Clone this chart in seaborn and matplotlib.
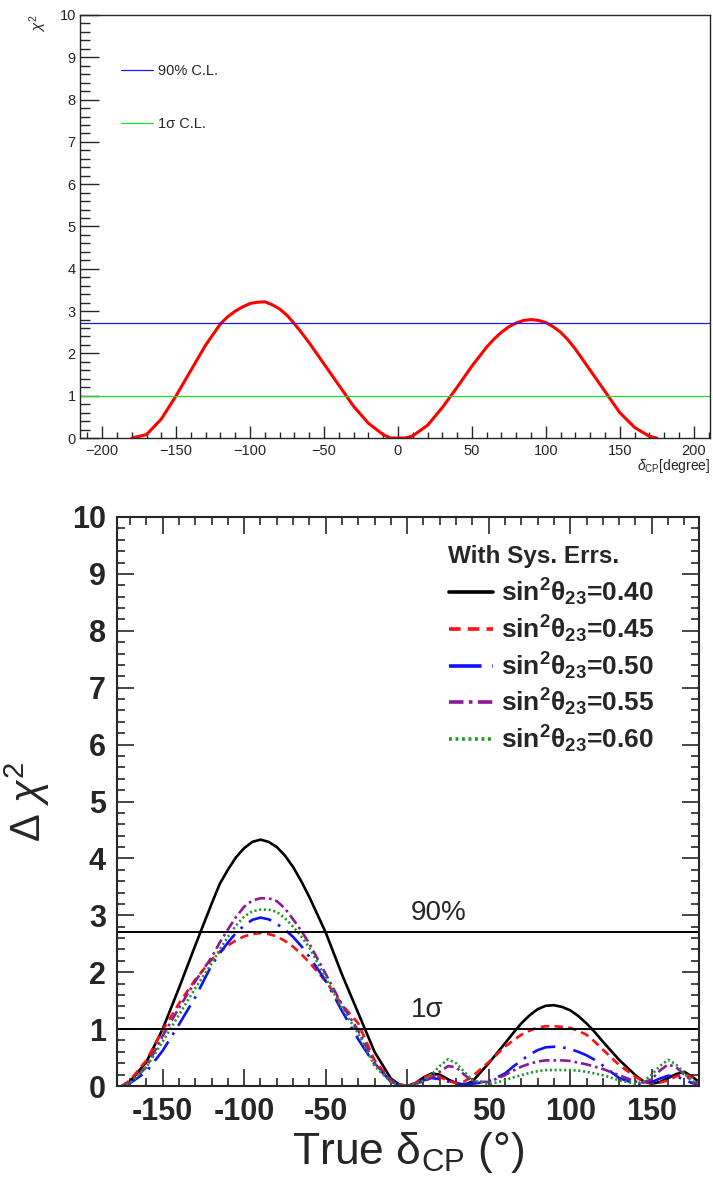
import matplotlib
matplotlib.use("Agg")
import matplotlib.pyplot as plt
import seaborn as sns
from matplotlib import font_manager
from matplotlib.lines import Line2D
from matplotlib.ticker import MultipleLocator

# ---------------- data ----------------
# upper panel: chi2 vs delta_CP
top_delta = [-180, -170, -160, -150, -140, -130, -120,
             -115, -110, -105, -100, -95, -90, -85, -80, -75, -70, -65,
             -60, -50, -40, -30, -20, -10, -5, 0, 5,
             10, 20, 30, 40, 50, 60,
             65, 70, 75, 80, 85, 90, 95, 100, 105, 110, 115,
             120, 130, 140, 150, 160, 170, 175]
top_chi2 = [0.0, 0.08, 0.45, 1.0, 1.6, 2.2, 2.7,
            2.87, 3.0, 3.1, 3.18, 3.21, 3.22, 3.15, 3.05, 2.9, 2.7, 2.48,
            2.25, 1.75, 1.25, 0.75, 0.35, 0.08, 0.0, 0.0, 0.0,
            0.05, 0.3, 0.72, 1.2, 1.7, 2.15,
            2.34, 2.5, 2.63, 2.72, 2.78, 2.8, 2.78, 2.73, 2.63, 2.5, 2.32,
            2.1, 1.6, 1.1, 0.6, 0.25, 0.04, 0.0]
top_levels = [2.71, 1.0]
top_level_names = ["90% C.L.", "1σ C.L."]
top_xticks = [-200, -150, -100, -50, 0, 50, 100, 150, 200]
top_xlabels = ["\u2212200", "\u2212150", "\u2212100", "\u221250", "0", "50", "100", "150", "200"]

# lower panel: delta chi2 vs true delta_CP for several sin^2 theta23
delta = [-175, -170, -160, -150, -140, -130, -120,
         -115, -110, -105, -100, -95, -90, -85, -80, -75, -70, -65,
         -60, -50, -40, -30, -20, -10,
         -5, 0, 5,
         10, 15, 20, 25, 30, 35, 40,
         50, 60,
         65, 70, 75, 80, 85, 90, 95, 100, 105, 110, 115,
         120, 130, 140,
         145, 150, 155, 160, 165, 170, 175, 180]
chi2_040 = [0.0, 0.08, 0.42, 1.0, 1.72, 2.47, 3.2,
            3.55, 3.8, 4.02, 4.18, 4.29, 4.33, 4.29, 4.2, 4.05, 3.85, 3.6,
            3.32, 2.7, 1.96, 1.28, 0.6, 0.13,
            0.03, 0.0, 0.05,
            0.15, 0.22, 0.2, 0.12, 0.05, 0.02, 0.08,
            0.4, 0.75,
            0.93, 1.1, 1.24, 1.35, 1.41, 1.42, 1.39, 1.33, 1.23, 1.1, 0.95,
            0.78, 0.46, 0.19,
            0.08, 0.04, 0.07, 0.14, 0.21, 0.25, 0.16, 0.05]
chi2_045 = [0.0, 0.1, 0.45, 0.98, 1.45, 1.87, 2.22,
            2.36, 2.47, 2.56, 2.63, 2.67, 2.69, 2.67, 2.63, 2.55, 2.45, 2.32,
            2.17, 1.84, 1.43, 1.1, 0.45, 0.1,
            0.03, 0.0, 0.05,
            0.15, 0.2, 0.16, 0.09, 0.05, 0.08, 0.17,
            0.42, 0.69,
            0.8, 0.9, 0.97, 1.03, 1.05, 1.05, 1.04, 1.02, 0.97, 0.9, 0.78,
            0.64, 0.37, 0.16,
            0.08, 0.05, 0.06, 0.1, 0.17, 0.21, 0.15, 0.05]
chi2_050 = [0.0, 0.05, 0.25, 0.62, 1.08, 1.56, 2.12,
            2.33, 2.52, 2.69, 2.82, 2.92, 2.96, 2.93, 2.85, 2.75, 2.62, 2.46,
            2.27, 1.85, 1.32, 0.82, 0.38, 0.08,
            0.02, 0.0, 0.03,
            0.1, 0.14, 0.12, 0.08, 0.04, 0.03, 0.04,
            0.08, 0.22,
            0.34, 0.45, 0.55, 0.63, 0.68, 0.69, 0.68, 0.65, 0.6, 0.54, 0.46,
            0.36, 0.14, 0.04,
            0.04, 0.07, 0.13, 0.18, 0.17, 0.11, 0.05, 0.02]
chi2_055 = [0.0, 0.06, 0.33, 0.88, 1.37, 1.84, 2.26,
            2.52, 2.75, 2.97, 3.15, 3.26, 3.3, 3.3, 3.25, 3.12, 2.93, 2.73,
            2.5, 1.97, 1.43, 0.97, 0.4, 0.08,
            0.02, 0.0, 0.03,
            0.08, 0.15, 0.25, 0.35, 0.33, 0.2, 0.08,
            0.07, 0.19,
            0.27, 0.34, 0.39, 0.43, 0.45, 0.45, 0.45, 0.44, 0.41, 0.38, 0.34,
            0.3, 0.19, 0.08,
            0.06, 0.12, 0.27, 0.38, 0.33, 0.2, 0.08, 0.02]
chi2_060 = [0.0, 0.05, 0.33, 0.78, 1.25, 1.72, 2.15,
            2.4, 2.62, 2.82, 2.98, 3.07, 3.1, 3.1, 3.06, 2.95, 2.8, 2.63,
            2.43, 1.9, 1.37, 0.92, 0.35, 0.07,
            0.02, 0.0, 0.03,
            0.1, 0.2, 0.35, 0.47, 0.4, 0.25, 0.1,
            0.03, 0.1,
            0.15, 0.19, 0.23, 0.26, 0.28, 0.28, 0.28, 0.28, 0.27, 0.25, 0.22,
            0.19, 0.1, 0.04,
            0.08, 0.2, 0.35, 0.46, 0.38, 0.22, 0.08, 0.02]
series_names = ["0.40", "0.45", "0.50", "0.55", "0.60"]
bottom_levels = [2.71, 1.0]
bottom_level_names = ["90%", "1σ"]
bot_xticks = [-150, -100, -50, 0, 50, 100, 150]
bot_xlabels = ["-150", "-100", "-50", "0", "50", "100", "150"]
bot_yticks = list(range(0, 11))


def has_font(name):
    try:
        font_manager.findfont(name, fallback_to_default=False)
        return True
    except Exception:
        return False


narrow = "Liberation Sans Narrow" if has_font("Liberation Sans Narrow") else "Liberation Sans"

sns.set_style("ticks")
plt.rcParams["font.family"] = ["Liberation Sans", "DejaVu Sans"]
plt.rcParams["mathtext.fontset"] = "custom"
plt.rcParams["mathtext.rm"] = "Liberation Sans"
plt.rcParams["mathtext.it"] = "Liberation Sans:italic"
plt.rcParams["mathtext.bf"] = narrow + ":bold"

fig = plt.figure(figsize=(7.13, 11.84), dpi=100)

# ---------------- upper panel ----------------
ax1 = fig.add_axes([80 / 713, 1 - 438 / 1184, 630 / 713, 423 / 1184])
sns.lineplot(x=top_delta, y=top_chi2, color="red", linewidth=2.2, ax=ax1)
h90 = ax1.axhline(top_levels[0], color="#1a1aff", lw=0.9)
h1s = ax1.axhline(top_levels[1], color="#22dd22", lw=0.9)
ax1.set_xlim(-215, 211)
ax1.set_ylim(0, 10)
ax1.set_xticks(top_xticks)
ax1.set_xticklabels(top_xlabels)
ax1.set_yticks(range(0, 11))
ax1.xaxis.set_minor_locator(MultipleLocator(10))
ax1.yaxis.set_minor_locator(MultipleLocator(0.2))
ax1.tick_params(axis="both", which="both", direction="in", labelsize=10.5, width=1)
ax1.tick_params(axis="x", which="major", length=9, pad=4)
ax1.tick_params(axis="x", which="minor", length=4.5)
ax1.tick_params(axis="y", which="major", length=14, pad=3)
ax1.tick_params(axis="y", which="minor", length=7)
for s in ax1.spines.values():
    s.set_linewidth(1)
ax1.set_xlabel("")
ax1.set_ylabel("")
ax1.text(1.0, -0.045, r"$\delta_{\rm CP}$[degree]", transform=ax1.transAxes,
         ha="right", va="top", fontsize=10)
ax1.text(-0.067, 1.0, r"$\chi^{2}$", transform=ax1.transAxes, rotation=90,
         ha="center", va="top", fontsize=11)
ax1.legend([h90, h1s], top_level_names, loc="upper left", bbox_to_anchor=(0.065, 0.885),
           frameon=False, fontsize=10.5, handlelength=2.2, handletextpad=0.35,
           labelspacing=2.7, borderpad=0, borderaxespad=0)

# ---------------- lower panel ----------------
ax2 = fig.add_axes([117 / 713, 1 - 1086 / 1184, 582 / 713, 569 / 1184])
styles = [
    dict(color="black", linestyle="-"),
    dict(color="#ff1010", linestyle=(0, (3.2, 2.0))),
    dict(color="#1010ff", linestyle=(0, (9, 3, 1, 3))),
    dict(color="#8a1a9a", linestyle=(0, (4, 1.5, 1, 1.5))),
    dict(color="#22992a", linestyle=(0, (0.8, 1.0))),
]
series = [chi2_040, chi2_045, chi2_050, chi2_055, chi2_060]
handles = []
for vals, st in zip(series, styles):
    sns.lineplot(x=delta, y=vals, ax=ax2, linewidth=1.9, **st)
    handles.append(Line2D([], [], linewidth=2.6, **st))

for lev, name in zip(bottom_levels, bottom_level_names):
    ax2.axhline(lev, color="black", lw=1.4)
    ax2.text(2, lev + 0.1, name, ha="left", va="bottom", fontsize=20,
             family=[narrow, "DejaVu Sans"])

ax2.set_xlim(-178, 179)
ax2.set_ylim(0, 10)
ax2.set_xticks(bot_xticks)
ax2.set_xticklabels(bot_xlabels)
ax2.set_yticks(bot_yticks)
ax2.xaxis.set_minor_locator(MultipleLocator(10))
ax2.yaxis.set_minor_locator(MultipleLocator(0.2))
ax2.tick_params(axis="both", which="both", direction="in", top=True, right=True, width=1.2)
ax2.tick_params(axis="both", which="major", length=12, pad=8)
ax2.tick_params(axis="both", which="minor", length=6)
for lab in ax2.get_xticklabels() + ax2.get_yticklabels():
    lab.set_family([narrow, "DejaVu Sans"])
    lab.set_fontweight("bold")
    lab.set_fontsize(22)
for s in ax2.spines.values():
    s.set_linewidth(1.5)
ax2.set_xlabel("True δ$_{\\rm CP}$ (°)", fontsize=32, family=[narrow, "DejaVu Sans"],
               labelpad=2)
ax2.set_ylabel(r"$\Delta\ \chi^{2}$", fontsize=30, labelpad=14)

ax2.text(0.569, 0.930, "With Sys. Errs.", transform=ax2.transAxes, ha="left", va="center",
         family=[narrow, "DejaVu Sans"], fontweight="bold", fontsize=17.5)
labels = [r"sin$^{\mathbf{2}}$θ$_{\mathbf{23}}$=" + n for n in series_names]
ax2.legend(handles, labels, loc="upper left", bbox_to_anchor=(0.571, 0.895),
           frameon=False, prop=dict(family=[narrow, "DejaVu Sans"], weight="bold", size=19),
           handlelength=1.67, handletextpad=0.27, labelspacing=0.2,
           borderpad=0, borderaxespad=0)

fig.savefig("out.png", dpi=100)
